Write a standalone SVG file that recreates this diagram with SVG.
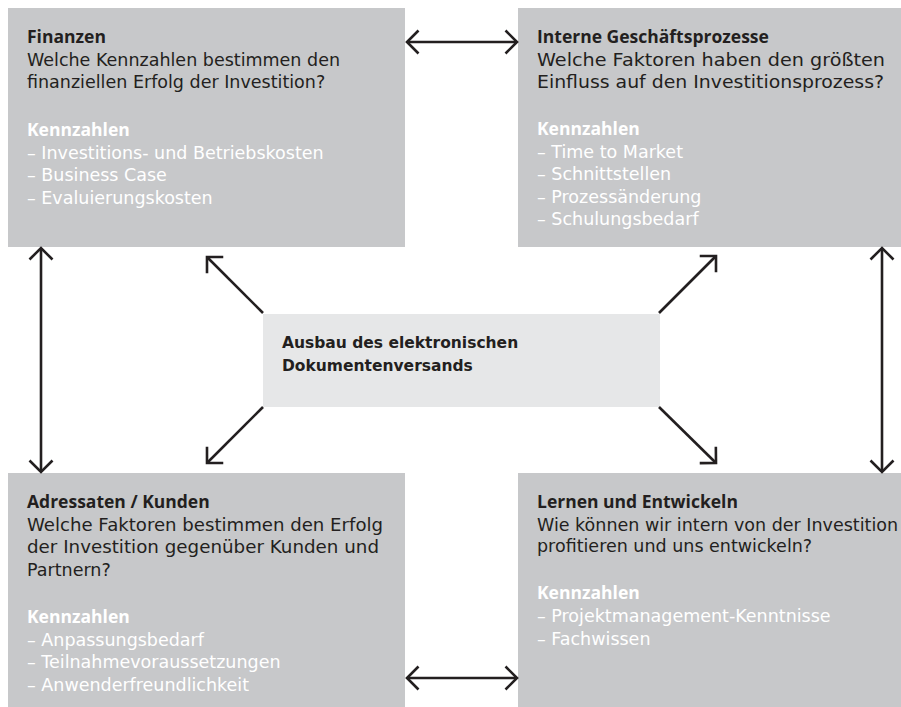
<svg xmlns="http://www.w3.org/2000/svg" width="901" height="707" viewBox="0 0 901 707">
  <style>
    .box { fill: #c7c8ca; }
    .core { fill: #e6e7e8; }
    text { font-family: "DejaVu Sans", "Open Sans", sans-serif; font-size: 17.5px; fill: #231f20; }
    .title { font-family: "Open Sans", "DejaVu Sans", sans-serif; font-weight: 700; font-size: 17.5px; }
    .kpi { fill: #ffffff; }
    .kpi-head { font-family: "Open Sans", "DejaVu Sans", sans-serif; fill: #ffffff; font-weight: 700; font-size: 17.5px; }
    .center { font-weight: bold; font-size: 15.5px; }
    .link { stroke: #231f20; stroke-width: 2.6; fill: none; marker-start: url(#head); marker-end: url(#head); }
    .out { stroke: #231f20; stroke-width: 2.6; fill: none; marker-end: url(#head); }
  </style>
  <defs>
    <marker id="head" markerUnits="userSpaceOnUse" viewBox="-16 -16 32 32" markerWidth="32" markerHeight="32" refX="0" refY="0" orient="auto-start-reverse" overflow="visible">
      <path d="M-11.5,-11.5 L0,0 L-11.5,11.5" fill="none" stroke="#231f20" stroke-width="2.6"/>
    </marker>
  </defs>

  <!-- Finanzen -->
  <g id="finanzen">
    <rect class="box" x="8" y="8" width="397" height="239"/>
    <text x="27" y="43" class="title">Finanzen</text>
    <text x="27" y="65.5">Welche Kennzahlen bestimmen den</text>
    <text x="27" y="88">finanziellen Erfolg der Investition?</text>
    <text x="27" y="136" class="kpi-head">Kennzahlen</text>
    <text x="27" y="158.5" class="kpi">– Investitions- und Betriebskosten</text>
    <text x="27" y="181" class="kpi">– Business Case</text>
    <text x="27" y="203.5" class="kpi">– Evaluierungskosten</text>
  </g>

  <!-- Interne Geschäftsprozesse -->
  <g id="prozesse">
    <rect class="box" x="518" y="8" width="383" height="239"/>
    <text x="537" y="43" class="title">Interne Geschäftsprozesse</text>
    <text x="537" y="65.5" textLength="348" lengthAdjust="spacingAndGlyphs">Welche Faktoren haben den größten</text>
    <text x="537" y="88" textLength="347" lengthAdjust="spacingAndGlyphs">Einfluss auf den Investitionsprozess?</text>
    <text x="537" y="135" class="kpi-head">Kennzahlen</text>
    <text x="537" y="157.5" class="kpi">– Time to Market</text>
    <text x="537" y="180" class="kpi">– Schnittstellen</text>
    <text x="537" y="202.5" class="kpi">– Prozessänderung</text>
    <text x="537" y="225" class="kpi">– Schulungsbedarf</text>
  </g>

  <!-- Zentrum -->
  <g id="zentrum">
    <rect class="core" x="263" y="314" width="397" height="93"/>
    <text x="282" y="348" class="center">Ausbau des elektronischen</text>
    <text x="282" y="371" class="center">Dokumentenversands</text>
  </g>

  <!-- Adressaten / Kunden -->
  <g id="kunden">
    <rect class="box" x="8" y="473" width="397" height="234"/>
    <text x="27" y="508" class="title">Adressaten / Kunden</text>
    <text x="27" y="530.5" textLength="356" lengthAdjust="spacingAndGlyphs">Welche Faktoren bestimmen den Erfolg</text>
    <text x="27" y="553" textLength="352" lengthAdjust="spacingAndGlyphs">der Investition gegenüber Kunden und</text>
    <text x="27" y="575.5">Partnern?</text>
    <text x="27" y="623" class="kpi-head">Kennzahlen</text>
    <text x="27" y="645.5" class="kpi">– Anpassungsbedarf</text>
    <text x="27" y="668" class="kpi">– Teilnahmevoraussetzungen</text>
    <text x="27" y="690.5" class="kpi">– Anwenderfreundlichkeit</text>
  </g>

  <!-- Lernen und Entwickeln -->
  <g id="lernen">
    <rect class="box" x="518" y="473" width="383" height="234"/>
    <text x="537" y="508" class="title">Lernen und Entwickeln</text>
    <text x="537" y="530.5">Wie können wir intern von der Investition</text>
    <text x="537" y="552">profitieren und uns entwickeln?</text>
    <text x="537" y="598.5" class="kpi-head">Kennzahlen</text>
    <text x="537" y="622" class="kpi">– Projektmanagement-Kenntnisse</text>
    <text x="537" y="644.5" class="kpi">– Fachwissen</text>
  </g>

  <!-- Verbindungen -->
  <g id="connectors">
    <line class="link" x1="407" y1="42" x2="517" y2="42"/>
    <line class="link" x1="407" y1="678" x2="517" y2="678"/>
    <line class="link" x1="41" y1="248" x2="41" y2="472"/>
    <line class="link" x1="882" y1="248" x2="882" y2="472"/>
    <line class="out" x1="263" y1="313" x2="207" y2="257"/>
    <line class="out" x1="659" y1="313" x2="716" y2="256"/>
    <line class="out" x1="263" y1="407" x2="207" y2="463"/>
    <line class="out" x1="659" y1="407" x2="716" y2="463"/>
  </g>
</svg>
